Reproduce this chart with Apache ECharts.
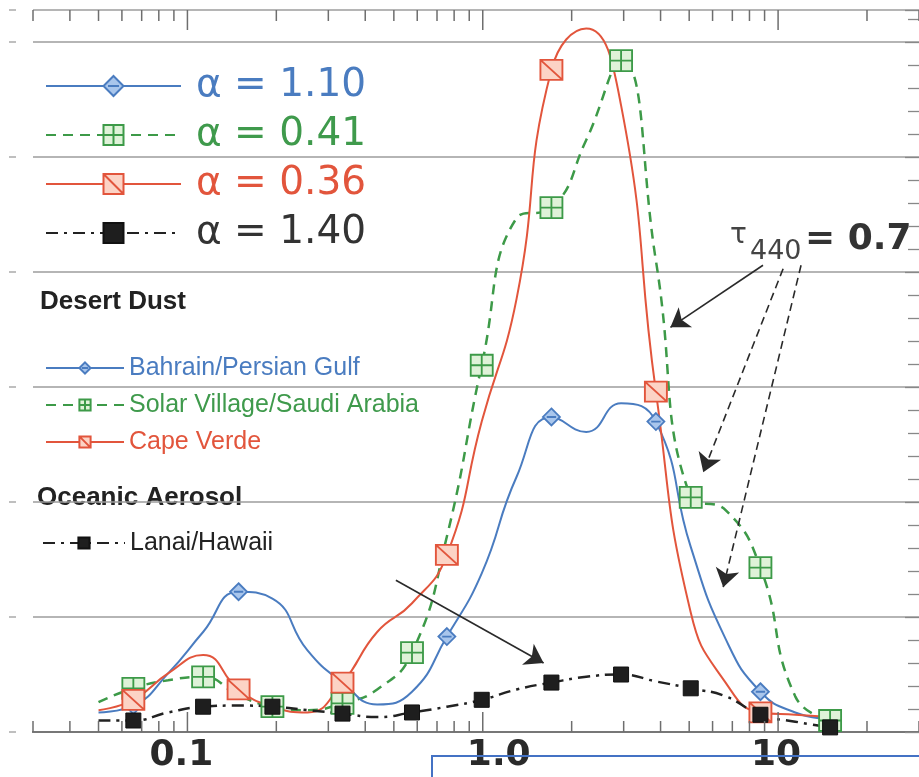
<!DOCTYPE html>
<html><head><meta charset="utf-8">
<script src="https://cdn.jsdelivr.net/npm/echarts@6/dist/echarts.min.js"></script>
<style>html,body{margin:0;padding:0;background:#fff}#c{width:919px;height:777px}</style>
</head><body><div id="c"></div>
<script>
// ---- data (radius bins in µm, volume size distribution values) ----
const binRadius = [0.05, 0.0656, 0.086, 0.113, 0.149, 0.194, 0.255, 0.335, 0.439, 0.576, 0.756, 0.992, 1.302, 1.708, 2.241, 2.94, 3.857, 5.061, 6.641, 8.713, 11.43, 15.0];
const bahrain   = [0.017, 0.023, 0.051, 0.087, 0.122, 0.116, 0.071, 0.043, 0.024, 0.035, 0.083, 0.138, 0.222, 0.274, 0.261, 0.286, 0.270, 0.161, 0.081, 0.035, 0.017, 0.011];
const solarVillage = [0.026, 0.038, 0.045, 0.048, 0.032, 0.022, 0.019, 0.025, 0.037, 0.069, 0.170, 0.319, 0.447, 0.456, 0.515, 0.584, 0.410, 0.204, 0.193, 0.143, 0.031, 0.010];
const capeVerde = [0.019, 0.028, 0.051, 0.067, 0.037, 0.022, 0.017, 0.043, 0.087, 0.112, 0.154, 0.270, 0.377, 0.576, 0.612, 0.545, 0.296, 0.104, 0.043, 0.017, 0.015, 0.013];
const lanai     = [0.010, 0.010, 0.017, 0.022, 0.023, 0.022, 0.019, 0.016, 0.013, 0.017, 0.022, 0.028, 0.037, 0.043, 0.048, 0.050, 0.044, 0.038, 0.031, 0.015, 0.009, 0.004];
const markersEvery3 = [1, 4, 7, 10, 13, 16, 19];
const markersEvery2 = [1, 3, 5, 7, 9, 11, 13, 15, 17, 19, 21];
const alphaLabels = ['α = 1.10', 'α = 0.41', 'α = 0.36', 'α = 1.40'];
const siteLabels = ['Bahrain/Persian Gulf', 'Solar Village/Saudi Arabia', 'Cape Verde', 'Lanai/Hawaii'];
const majorTicks = [0.1, 1, 10];
const minorTicks = [0.03, 0.04, 0.05, 0.06, 0.07, 0.08, 0.09, 0.2, 0.3, 0.4, 0.5, 0.6, 0.7, 0.8, 0.9, 2, 3, 4, 5, 6, 7, 8, 9, 20, 30];
const xTickLabels = ['0.1', '1.0', '10'];
// arrows: from -> to, dashed flag
const arrowFrom = [[8.89, 0.406], [10.4, 0.403], [11.96, 0.406], [0.508, 0.132]];
const arrowTo   = [[4.32, 0.352], [5.58, 0.226], [6.52, 0.126], [1.607, 0.060]];
const arrowDashed = [false, true, true, false];

const xMin = 0.03, xMax = 30, yMax = 0.628;

const COL = {blue: '#4a7cc0', green: '#3d9a48', red: '#e2553c', black: '#222222'};
const styles = {
  blue:  {symbol: 'path://M0,-1L1,0L0,1L-1,0Z M-0.55,0L0.55,0', size: [17, 17], fill: '#a9c6ec', border: COL.blue, bw: 1.8,
          line: {color: COL.blue, width: 2, type: 'solid'}},
  green: {symbol: 'path://M0,0H2V2H0Z M1,0V2 M0,1H2', size: [22, 21], fill: '#dff2d8', border: COL.green, bw: 1.8,
          line: {color: COL.green, width: 2.5, type: [10, 7]}},
  red:   {symbol: 'path://M0,0H2V2H0Z M0,0L2,2', size: [22, 20], fill: '#fcd3c5', border: COL.red, bw: 1.8,
          line: {color: COL.red, width: 2, type: 'solid'}},
  black: {symbol: 'rect', size: [15, 15], fill: '#1e1e1e', border: '#111', bw: 1,
          line: {color: COL.black, width: 2.5, type: [12, 6, 3, 6]}}
};

function buildData(vals, marks) {
  return binRadius.map((r, i) => marks.indexOf(i) >= 0 ? [r, vals[i]] : {value: [r, vals[i]], symbol: 'none'});
}
function lineSeries(name, key, vals, marks, extra) {
  const s = styles[key];
  return Object.assign({
    type: 'line', name: name, smooth: 0.5, showSymbol: true, showAllSymbol: true,
    symbol: s.symbol, symbolSize: s.size,
    itemStyle: {color: s.fill, borderColor: s.border, borderWidth: s.bw},
    lineStyle: s.line, data: vals ? buildData(vals, marks) : [],
    xAxisIndex: 0, yAxisIndex: 0, silent: true, emphasis: {disabled: true}
  }, extra || {});
}

const arrowData = arrowFrom.map((f, i) => [
  {coord: f, lineStyle: {type: arrowDashed[i] ? [8, 5] : 'solid'}},
  {coord: arrowTo[i]}
]);

const chart = echarts.init(document.getElementById('c'), null, {renderer: 'canvas'});
const sans = "'Liberation Sans', Arial, sans-serif";

chart.setOption({
  animation: false,
  backgroundColor: '#ffffff',
  grid: {left: 33, top: 10, width: 888, height: 722},
  xAxis: [
    {type: 'log', logBase: 10, min: xMin, max: xMax, position: 'bottom',
     axisLine: {show: true, lineStyle: {color: '#6a6a6a', width: 2}},
     axisTick: {show: false}, splitLine: {show: false}, minorTick: {show: false},
     axisLabel: {show: true, margin: 6, color: '#2a2a2a', fontFamily: 'DejaVu Sans', fontWeight: 'bold', fontSize: 36,
       showMinLabel: false, showMaxLabel: false,
       formatter: function (v) {
         const l = Math.log10(v), k = Math.round(l);
         if (Math.abs(l - k) > 1e-6 || k < -1 || k > 1) return '';
         return '{l' + (k + 1) + '|' + xTickLabels[k + 1] + '}';
       },
       rich: {
         l0: {fontFamily: 'DejaVu Sans', fontWeight: 'bold', fontSize: 36, color: '#2a2a2a', padding: [0, 12, 0, 0]},
         l1: {fontFamily: 'DejaVu Sans', fontWeight: 'bold', fontSize: 36, color: '#2a2a2a', padding: [0, 0, 0, 32]},
         l2: {fontFamily: 'DejaVu Sans', fontWeight: 'bold', fontSize: 36, color: '#2a2a2a', padding: [0, 4, 0, 0]}
       }}},
    {type: 'log', logBase: 10, min: xMin, max: xMax, position: 'top',
     axisLine: {show: true, lineStyle: {color: '#777', width: 2}},
     axisTick: {show: false}, axisLabel: {show: false}, splitLine: {show: false}}
  ],
  yAxis: [
    {type: 'value', min: 0, max: yMax, interval: 0.1, position: 'left', offset: 17,
     axisLine: {show: false}, axisLabel: {show: false},
     axisTick: {show: true, inside: false, length: 7, lineStyle: {color: '#aaa', width: 1.5}},
     splitLine: {show: true, lineStyle: {color: '#9c9c9c', width: 1.5}}},
    {type: 'value', min: 0, max: yMax, interval: 0.1, position: 'right',
     axisLine: {show: false}, axisLabel: {show: false}, splitLine: {show: false},
     axisTick: {show: true, inside: true, length: 14, lineStyle: {color: '#888', width: 1.3}},
     minorTick: {show: true, splitNumber: 5, length: 11, lineStyle: {color: '#888', width: 1.3}}}
  ],
  legend: [
    {data: alphaLabels.map((n, i) => ({name: n, textStyle: {color: [COL.blue, '#3f9a4c', COL.red, '#333'][i]}})),
     orient: 'vertical', left: 45, top: 66, padding: 0, itemWidth: 135, itemHeight: 25, itemGap: 9,
     selectedMode: false,
     textStyle: {fontFamily: 'DejaVu Sans', fontSize: 39, lineHeight: 40, padding: [0, 0, 0, 10]}},
    {data: siteLabels.slice(0, 3).map((n, i) => ({name: n, textStyle: {color: [COL.blue, '#3f9a4c', COL.red][i]}})),
     orient: 'vertical', left: 45, top: 353, padding: 0, itemWidth: 78, itemHeight: 14, itemGap: 7,
     selectedMode: false,
     textStyle: {fontFamily: sans, fontSize: 25, lineHeight: 30}},
    {data: [{name: siteLabels[3], textStyle: {color: '#222'}}],
     orient: 'vertical', left: 42, top: 528, padding: 0, itemWidth: 82, itemHeight: 14, itemGap: 7,
     selectedMode: false,
     textStyle: {fontFamily: sans, fontSize: 25, lineHeight: 30}}
  ],
  graphic: [
    {type: 'text', left: 40, top: 289, silent: true,
     style: {text: 'Desert Dust', fontFamily: sans, fontWeight: 'bold', fontSize: 26, fill: '#222'}},
    {type: 'text', left: 37, top: 485, silent: true,
     style: {text: 'Oceanic Aerosol', fontFamily: sans, fontWeight: 'bold', fontSize: 26, fill: '#222'}},
    {type: 'text', x: 730, y: 236, silent: true,
     style: {text: 'τ', fontFamily: 'DejaVu Sans', fontSize: 28, fill: '#444', verticalAlign: 'middle'}},
    {type: 'text', x: 750, y: 252, silent: true,
     style: {text: '440', fontFamily: 'DejaVu Sans', fontSize: 27, fill: '#444', verticalAlign: 'middle'}},
    {type: 'text', x: 805, y: 240, silent: true,
     style: {text: '= 0.7', fontFamily: 'DejaVu Sans', fontWeight: 'bold', fontSize: 36, fill: '#333', verticalAlign: 'middle'}},
    {type: 'rect', z: 100, silent: true, shape: {x: 432, y: 756, width: 520, height: 60},
     style: {fill: 'none', stroke: '#4472c4', lineWidth: 2}}
  ],
  series: [
    {type: 'custom', name: '_ticks', coordinateSystem: 'cartesian2d', xAxisIndex: 0, yAxisIndex: 0, silent: true, z: 5,
     data: minorTicks.map(v => [v, 0]).concat(majorTicks.map(v => [v, 1])),
     encode: {x: 0, y: 1},
     renderItem: function (params, api) {
       const x = api.value(0), major = api.value(1) === 1;
       const b = api.coord([x, 0]), t = api.coord([x, yMax]);
       const len = major ? 20 : 11;
       const st = {stroke: '#6e6e6e', lineWidth: 1.5};
       return {type: 'group', children: [
         {type: 'line', shape: {x1: b[0], y1: b[1], x2: b[0], y2: b[1] - len}, style: st},
         {type: 'line', shape: {x1: t[0], y1: t[1], x2: t[0], y2: t[1] + len}, style: st}
       ]};
     }},
    lineSeries(alphaLabels[1], 'green', solarVillage, markersEvery2),
    lineSeries(alphaLabels[0], 'blue', bahrain, markersEvery3),
    lineSeries(alphaLabels[2], 'red', capeVerde, markersEvery3),
    lineSeries(alphaLabels[3], 'black', lanai, markersEvery2, {
      markLine: {silent: true, symbol: ['none', 'arrow'], symbolSize: 18, label: {show: false},
        itemStyle: {color: '#2a2a2a'},
        lineStyle: {color: '#2a2a2a', width: 1.6, type: 'solid'}, emphasis: {disabled: true},
        animation: false, data: arrowData}}),
    lineSeries(siteLabels[0], 'blue', null, null),
    lineSeries(siteLabels[1], 'green', null, null),
    lineSeries(siteLabels[2], 'red', null, null),
    lineSeries(siteLabels[3], 'black', null, null)
  ]
});
</script></body></html>
